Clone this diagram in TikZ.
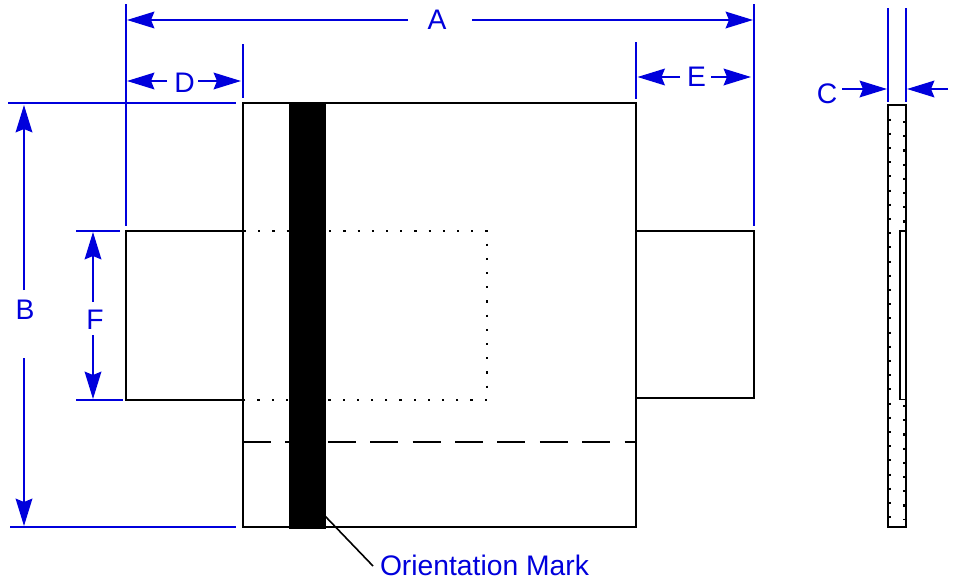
\documentclass[tikz,border=0pt]{standalone}
\usepackage{fontspec}
\setmainfont{Liberation Sans}
\usetikzlibrary{arrows.meta,calc}
\definecolor{dimblue}{RGB}{0,0,220}
\tikzset{
  x=0.75pt,y=-0.75pt,
  part/.style={draw=black,line width=1.5pt,line join=miter},
  thin part/.style={draw=black,line width=1.2pt},
  ext/.style={draw=dimblue,line width=1.9pt},
  witness/.style={draw=dimblue,line width=1.5pt},
  dim/.style={draw=dimblue,line width=1.5pt,-{Stealth[length=20.5pt,width=12.5pt,inset=2.5pt]}},
  lbl/.style={text=dimblue,font=\fontsize{21.2}{24}\selectfont,inner sep=0pt,outer sep=0pt},
  dots/.style={draw=black,line width=1.5pt,dash pattern=on 1.6pt off 9.05pt},
  longdash/.style={draw=black,line width=1.5pt,dash pattern=on 21pt off 10.8pt},
}
\begin{document}
\begin{tikzpicture}
\useasboundingbox[fill=white] (0,0) rectangle (959,578);
% named reference points
\coordinate (al) at (127,20);  \coordinate (ar) at (753,20);
\coordinate (dl) at (127,81);  \coordinate (dr) at (241,81);
\coordinate (el) at (637.5,77);  \coordinate (er) at (751,77);
\coordinate (bt) at (24,105);  \coordinate (bb) at (24,526);
\coordinate (ft) at (93,232);  \coordinate (fb) at (93,399);
\coordinate (cl) at (887,89);  \coordinate (cr) at (907,89);
\coordinate (al0) at (408,20);  \coordinate (ar0) at (472,20);
\coordinate (dl0) at (167,81);  \coordinate (dr0) at (198,81);
\coordinate (el0) at (680,77);  \coordinate (er0) at (711,77);
\coordinate (bt0) at (24,290);  \coordinate (bb0) at (24,358);
\coordinate (ft0) at (93,302);  \coordinate (fb0) at (93,335);
\coordinate (cl0) at (842,89);  \coordinate (cr0) at (948,89);
\coordinate (lead) at (325,516);
\coordinate (leadend) at (373,566);
% hidden outlines
\draw[dots] (244,231) -- (487,231) -- (487,399.5) -- (244,399.5);
\draw[longdash] (243,442) -- (636,442);
\draw[dots] (890,118.5) -- (890,518);
\draw[dots] (904,121) -- (904,519.5);
% parts
\draw[part] (243,103) rectangle (636,527);
\draw[part] (243,231) -- (126,231) -- (126,399.5) -- (243,399.5);
\draw[part] (636,231) -- (754,231) -- (754,397.5) -- (636,397.5);
\draw[part] (888,105) rectangle (906,527);
\draw[thin part,fill=white] (900,231) rectangle (906,399.5);
\node[fill=black,draw=none,minimum width=27.4pt,minimum height=319.5pt,inner sep=0pt,anchor=north west] (mark) at (289,103) {};
% extension lines
\draw[ext] (126,4) -- (126,226);
\draw[ext] (754,4) -- (754,226);
\draw[witness] (243,44) -- (243,98);
\draw[witness] (636,42) -- (636,99);
\draw[witness] (8,103) -- (236,103);
\draw[witness] (10,527) -- (236,527);
\draw[witness] (76,231) -- (120,231);
\draw[witness] (76,399.5) -- (123,399.5);
\draw[ext] (888,8) -- (888,102);
\draw[ext] (906,8) -- (906,102);
% labels
\node[lbl] (A) at (437,20) {A};
\node[lbl] (B) at (25,310) {B};
\node[lbl] (Cl) at (827,94) {C};
\node[lbl] (D) at (184.5,83) {D};
\node[lbl] (E) at (696.5,77) {E};
\node[lbl] (F) at (95,320) {F};
\node[lbl,anchor=west] (O) at (380,565) {Orientation Mark};
% dimension arrows
\draw[dim] (al0) -- (al);
\draw[dim] (ar0) -- (ar);
\draw[dim] (dl0) -- (dl);
\draw[dim] (dr0) -- (dr);
\draw[dim] (el0) -- (el);
\draw[dim] (er0) -- (er);
\draw[dim] (bt0) -- (bt);
\draw[dim] (bb0) -- (bb);
\draw[dim] (ft0) -- (ft);
\draw[dim] (fb0) -- (fb);
\draw[dim] (cl0) -- (cl);
\draw[dim] (cr0) -- (cr);
% leader
\draw[thin part] (lead) -- (leadend);
\end{tikzpicture}
\end{document}
